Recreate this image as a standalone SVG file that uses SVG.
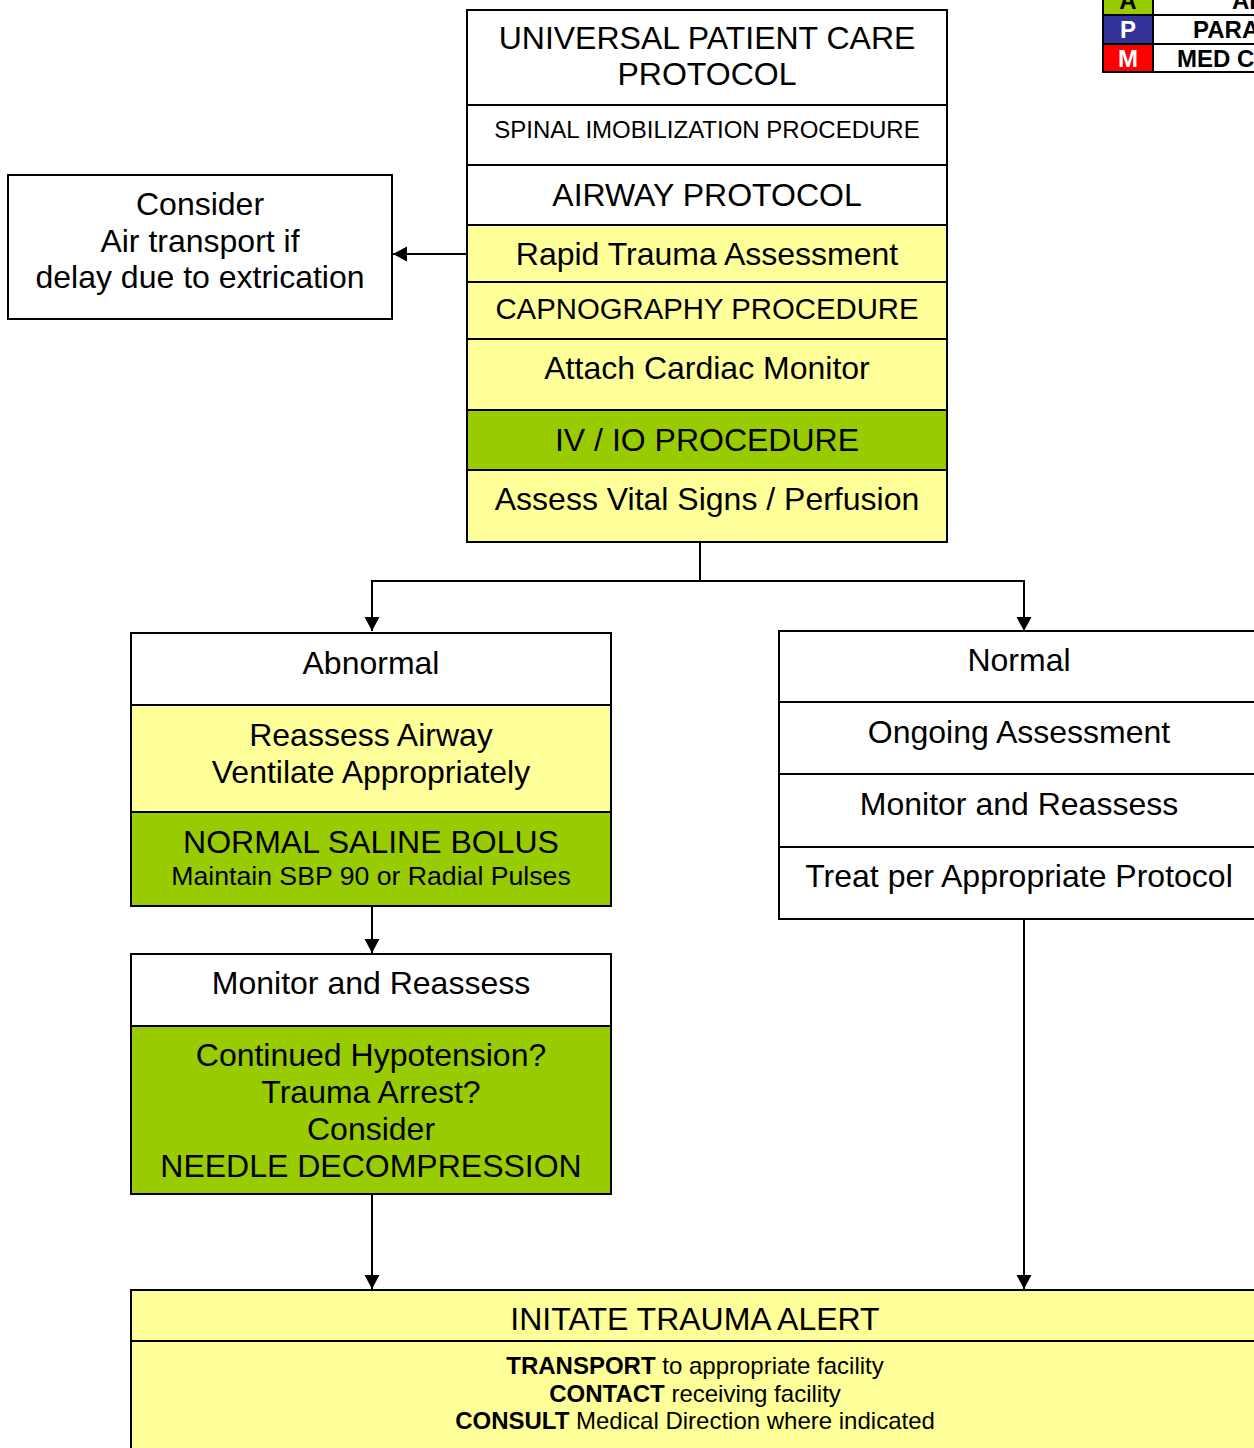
<svg xmlns="http://www.w3.org/2000/svg" width="1254" height="1448" viewBox="0 0 1254 1448">
<defs>
<style>
.t{font-family:"Liberation Sans",Arial,sans-serif;fill:#000;text-anchor:middle}
.f32{font-size:32px}
.f29{font-size:29.33px}
.f24{font-size:24px}
.f27{font-size:26.67px}
.b{font-weight:bold}
.box{stroke:#000;stroke-width:2}
.w{fill:#fff}
.y{fill:#FFFF99}
.g{fill:#99CC00}
.c{stroke:#000;stroke-width:2;fill:none}
</style>
<marker id="ah" markerUnits="userSpaceOnUse" markerWidth="16" markerHeight="16" refX="14" refY="7.5" orient="auto">
<path d="M0,0 L14,7.5 L0,15 z" fill="#000"/>
</marker>
</defs>
<rect width="1254" height="1448" fill="#fff"/>

<g id="connectors">
<line class="c" x1="467" y1="254" x2="393" y2="254" marker-end="url(#ah)"/>
<polyline class="c" points="700,542 700,581 372,581 372,631" marker-end="url(#ah)"/>
<polyline class="c" points="700,581 1024,581 1024,631" marker-end="url(#ah)"/>
<line class="c" x1="372" y1="906" x2="372" y2="953" marker-end="url(#ah)"/>
<line class="c" x1="372" y1="1194" x2="372" y2="1289" marker-end="url(#ah)"/>
<line class="c" x1="1024" y1="919" x2="1024" y2="1289" marker-end="url(#ah)"/>
</g>

<g id="main-column">
<rect class="box w" x="467" y="10" width="480" height="95"/>
<text class="t f32" x="707" y="49">UNIVERSAL PATIENT CARE</text>
<text class="t f32" x="707" y="85">PROTOCOL</text>
<rect class="box w" x="467" y="105" width="480" height="60"/>
<text class="t f24" x="707" y="138">SPINAL IMOBILIZATION PROCEDURE</text>
<rect class="box w" x="467" y="165" width="480" height="60"/>
<text class="t f32" x="707" y="206">AIRWAY PROTOCOL</text>
<rect class="box y" x="467" y="225" width="480" height="57"/>
<text class="t f32" x="707" y="265">Rapid Trauma Assessment</text>
<rect class="box y" x="467" y="282" width="480" height="57"/>
<text class="t f29" x="707" y="319">CAPNOGRAPHY PROCEDURE</text>
<rect class="box y" x="467" y="339" width="480" height="71"/>
<text class="t f32" x="707" y="379">Attach Cardiac Monitor</text>
<rect class="box g" x="467" y="410" width="480" height="60"/>
<text class="t f32" x="707" y="451">IV / IO PROCEDURE</text>
<rect class="box y" x="467" y="470" width="480" height="72"/>
<text class="t f32" x="707" y="510">Assess Vital Signs / Perfusion</text>
</g>

<g id="air-transport">
<rect class="box w" x="8" y="175" width="384" height="144"/>
<text class="t f32" x="200" y="215">Consider</text>
<text class="t f32" x="200" y="252">Air transport if</text>
<text class="t f32" x="200" y="288">delay due to extrication</text>
</g>

<g id="abnormal">
<rect class="box w" x="131" y="633" width="480" height="72"/>
<text class="t f32" x="371" y="674">Abnormal</text>
<rect class="box y" x="131" y="705" width="480" height="107"/>
<text class="t f32" x="371" y="746">Reassess Airway</text>
<text class="t f32" x="371" y="783">Ventilate Appropriately</text>
<rect class="box g" x="131" y="812" width="480" height="94"/>
<text class="t f32" x="371" y="853">NORMAL SALINE BOLUS</text>
<text class="t f27" x="371" y="885">Maintain SBP 90 or Radial Pulses</text>
</g>

<g id="monitor-reassess-left">
<rect class="box w" x="131" y="954" width="480" height="72"/>
<text class="t f32" x="371" y="994">Monitor and Reassess</text>
<rect class="box g" x="131" y="1026" width="480" height="168"/>
<text class="t f32" x="371" y="1066">Continued Hypotension?</text>
<text class="t f32" x="371" y="1103">Trauma Arrest?</text>
<text class="t f32" x="371" y="1140">Consider</text>
<text class="t f32" x="371" y="1177">NEEDLE DECOMPRESSION</text>
</g>

<g id="normal">
<rect class="box w" x="779" y="631" width="480" height="71"/>
<text class="t f32" x="1019" y="671">Normal</text>
<rect class="box w" x="779" y="702" width="480" height="72"/>
<text class="t f32" x="1019" y="743">Ongoing Assessment</text>
<rect class="box w" x="779" y="774" width="480" height="73"/>
<text class="t f32" x="1019" y="815">Monitor and Reassess</text>
<rect class="box w" x="779" y="847" width="480" height="72"/>
<text class="t f32" x="1019" y="887">Treat per Appropriate Protocol</text>
</g>

<g id="trauma-alert">
<rect class="box y" x="131" y="1290" width="1128" height="51"/>
<text class="t f32" x="695" y="1330">INITATE TRAUMA ALERT</text>
<rect class="box y" x="131" y="1341" width="1128" height="120"/>
<text class="t f24" x="695" y="1374"><tspan class="b">TRANSPORT</tspan> to appropriate facility</text>
<text class="t f24" x="695" y="1402"><tspan class="b">CONTACT</tspan> receiving facility</text>
<text class="t f24" x="695" y="1429"><tspan class="b">CONSULT</tspan> Medical Direction where indicated</text>
</g>

<g id="legend">
<rect class="box g" x="1103" y="-20" width="50" height="35"/>
<rect class="box w" x="1153" y="-20" width="110" height="35"/>
<rect class="box" fill="#333399" x="1103" y="15" width="50" height="29"/>
<rect class="box w" x="1153" y="15" width="110" height="29"/>
<rect class="box" fill="#FF0000" x="1103" y="44" width="50" height="28"/>
<rect class="box w" x="1153" y="44" width="110" height="28"/>
<text class="t f24 b" x="1128" y="9">A</text>
<text class="t f24 b" x="1128" y="38" style="fill:#fff">P</text>
<text class="t f24 b" x="1128" y="67" style="fill:#fff">M</text>
<text class="t f24 b" x="1232" y="9" style="text-anchor:start">AE</text>
<text class="t f24 b" x="1193" y="38" style="text-anchor:start">PARA</text>
<text class="t f24 b" x="1177" y="67" style="text-anchor:start">MED C</text>
</g>
</svg>
